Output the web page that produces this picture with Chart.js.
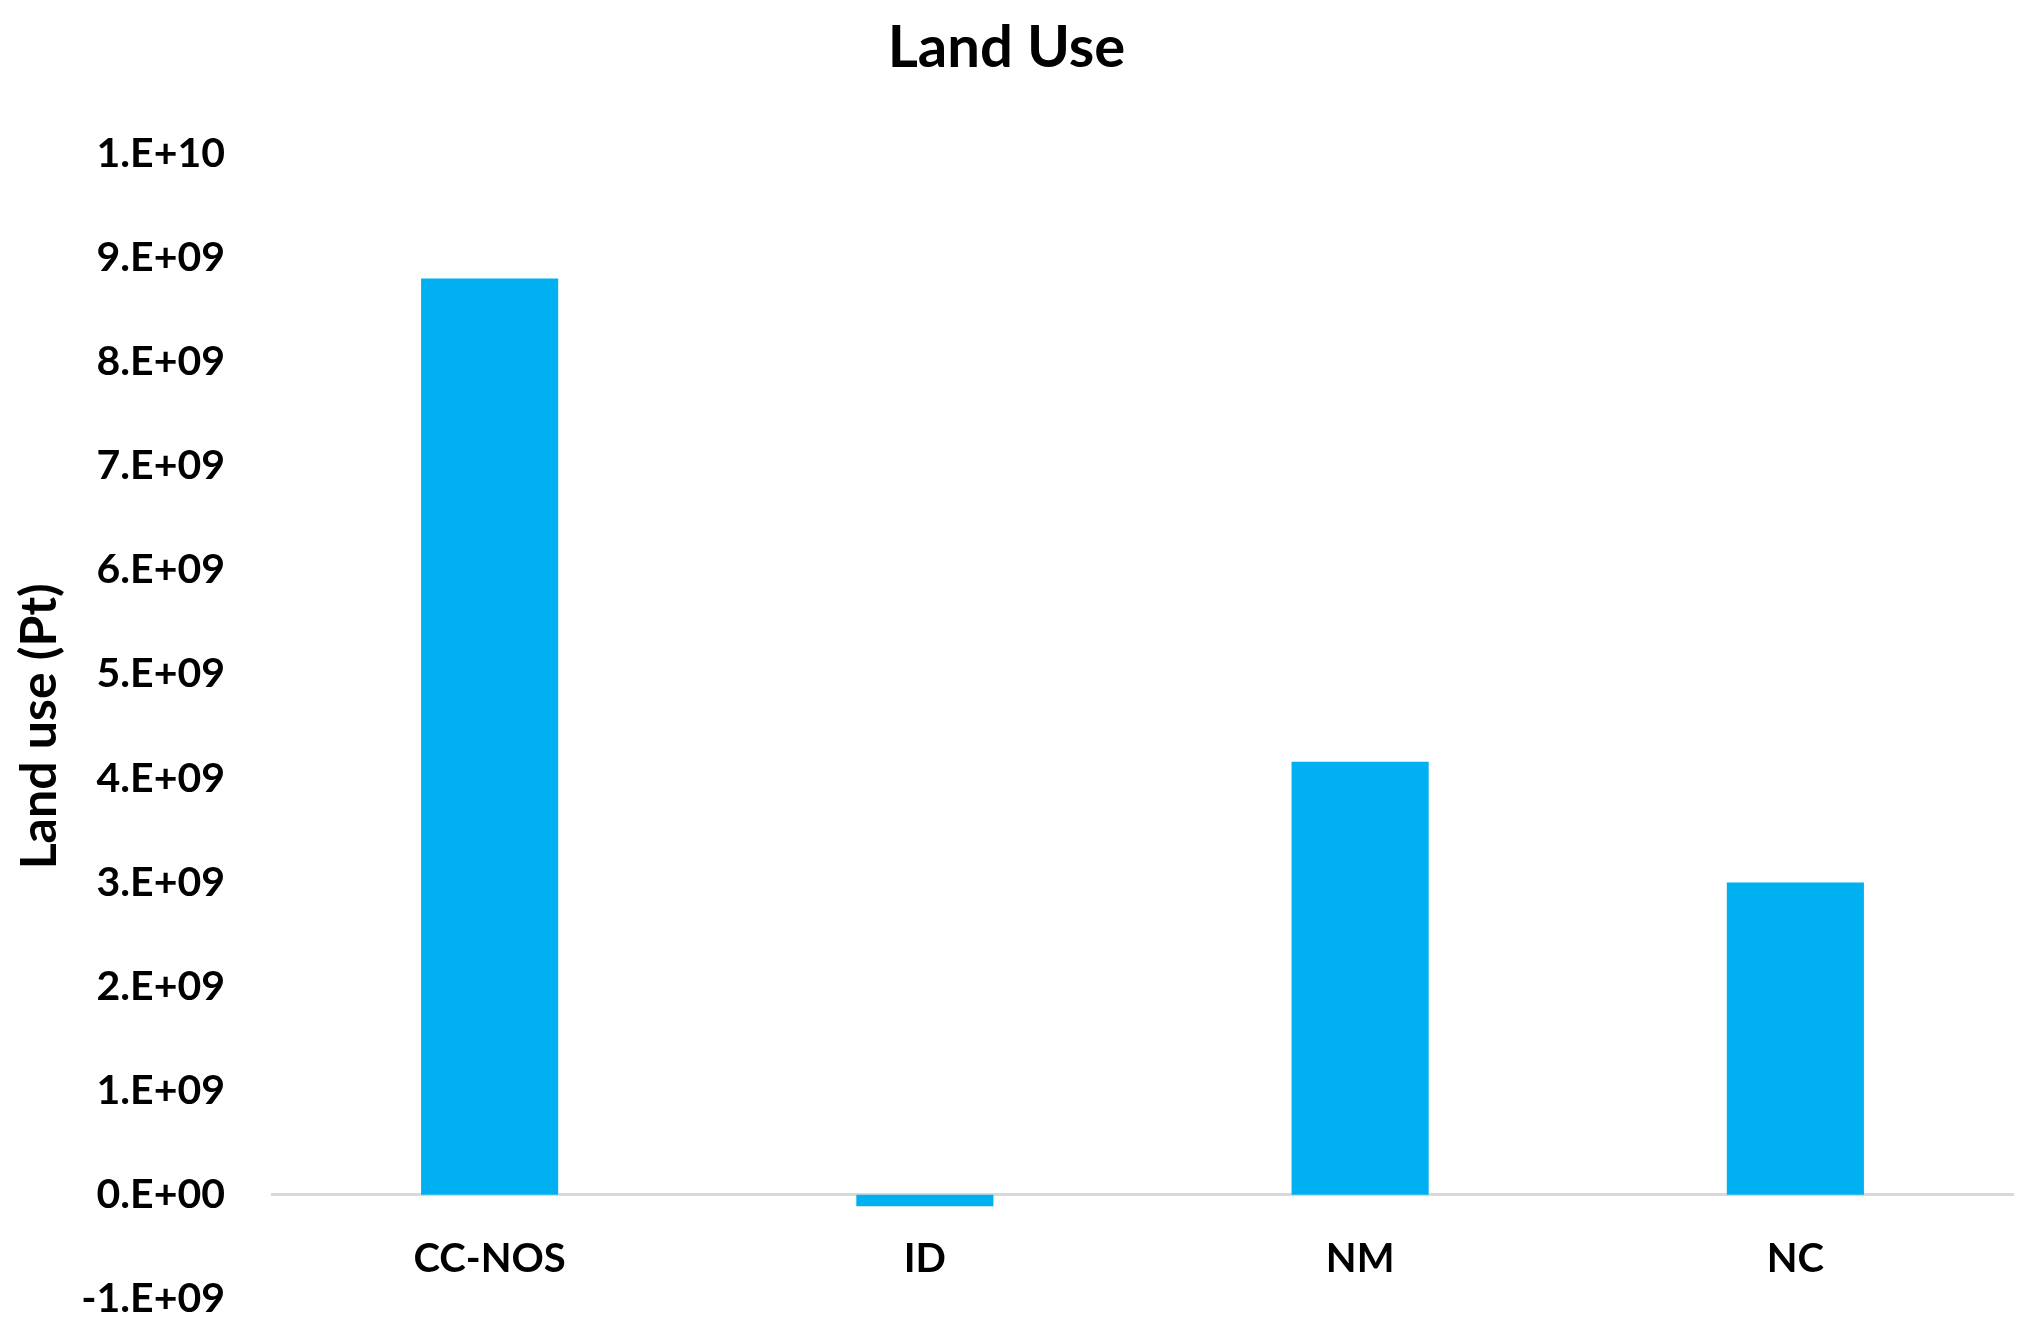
<!DOCTYPE html>
<html>
<head>
<meta charset="utf-8">
<title>Land Use</title>
<script src="https://cdn.jsdelivr.net/npm/chart.js@4"></script>
<style>
  html, body { margin: 0; padding: 0; background: #fff; }
</style>
</head>
<body>
<canvas id="chartLandUse" width="2035" height="1336"></canvas>
<script>
var categorias = ["CC-NOS", "ID", "NM", "NC"];
var landUse = [8.80e9, -1.1e8, 4.16e9, 3.00e9];
// tick labels from the bottom (-1E9) to the top (1E10)
var yTickLabels = ["-1.E+09", "0.E+00", "1.E+09", "2.E+09", "3.E+09", "4.E+09",
                   "5.E+09", "6.E+09", "7.E+09", "8.E+09", "9.E+09", "1.E+10"];

var fonte = "Lato, 'Noto Sans', sans-serif";
var ctx = document.getElementById('chartLandUse').getContext('2d');

var chart = new Chart(ctx, {
    type: 'bar',
    data: {
        labels: categorias,
        datasets: [{
            label: "Land use",
            data: landUse,
            backgroundColor: '#00B0F0',
            borderWidth: 0,
            categoryPercentage: 1,
            barPercentage: 0.315
        }]
    },
    options: {
        responsive: false,
        animation: false,
        layout: {
            padding: { left: 0, right: 22, top: 0, bottom: 37 }
        },
        plugins: {
            legend: { display: false },
            tooltip: { enabled: false },
            title: {
                display: true,
                text: 'Land Use',
                color: '#000',
                font: { family: fonte, size: 58, weight: 'bold' },
                padding: { top: 13, bottom: 71 }
            }
        },
        scales: {
            x: {
                position: { y: 0 },
                grid: { display: false, drawTicks: false },
                border: { display: true, color: '#d9d9d9', width: 3 },
                ticks: {
                    color: '#000',
                    padding: 40,
                    font: { family: fonte, size: 40, weight: 'bold' }
                }
            },
            y: {
                min: -1e9,
                max: 1e10,
                grid: { display: false, drawTicks: false },
                border: { display: false },
                afterFit: function (scale) {
                    scale.width = 272;
                    // the tick padding is horizontal only here
                    scale.paddingTop = 25;
                    scale.paddingBottom = 25;
                },
                ticks: {
                    stepSize: 1e9,
                    color: '#000',
                    padding: 47,
                    font: { family: fonte, size: 41, weight: 'bold' },
                    callback: function (value, index) { return yTickLabels[index]; }
                },
                title: {
                    display: true,
                    text: 'Land use (Pt)',
                    color: '#000',
                    font: { family: fonte, size: 50, weight: 'bold' },
                    padding: { top: 10, bottom: 0 }
                }
            }
        }
    }
});
</script>
</body>
</html>
